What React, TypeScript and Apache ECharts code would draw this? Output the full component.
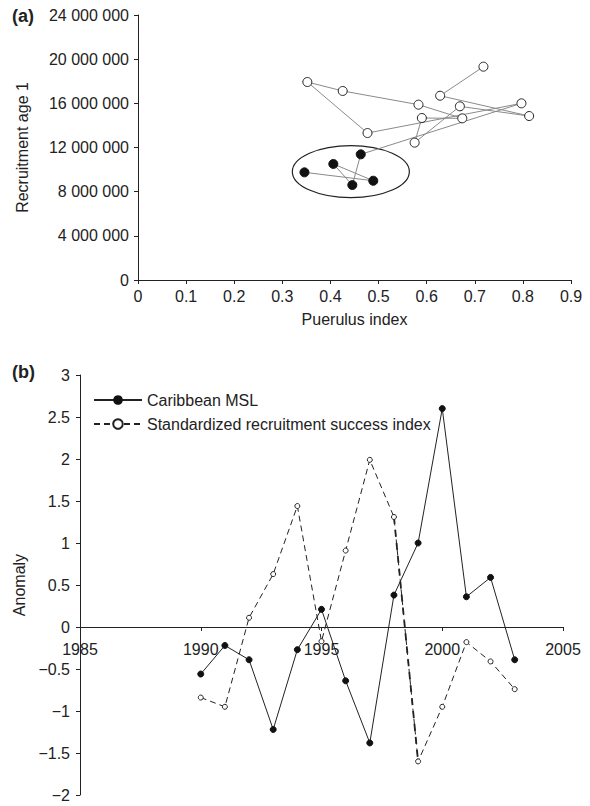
import React, { useEffect, useRef } from "react";
import * as echarts from "echarts";

// Panel (a): points in time order (connected by lines)
const puerulusIndex = [0.718, 0.628, 0.813, 0.669, 0.575, 0.590, 0.674, 0.583, 0.4255, 0.352, 0.477, 0.797, 0.463, 0.4455, 0.406, 0.489, 0.346];
const recruitmentAge1 = [19320000, 16690000, 14850000, 15730000, 12440000, 14670000, 14640000, 15880000, 17120000, 17930000, 13310000, 16000000, 11380000, 8600000, 10510000, 8990000, 9750000];
const filledPoint = [false, false, false, false, false, false, false, false, false, false, false, false, true, true, true, true, true];
// ellipse around the filled points: centre x, centre y, half-width, half-height
const ellipseSpec = [0.4424, 9810000, 0.1216, 2355000];

// Panel (b)
const years = [1990, 1991, 1992, 1993, 1994, 1995, 1996, 1997, 1998, 1999, 2000, 2001, 2002, 2003];
const caribbeanMSL = [-0.56, -0.22, -0.39, -1.22, -0.27, 0.21, -0.64, -1.38, 0.38, 1.0, 2.6, 0.36, 0.59, -0.39];
const recruitIndex = [-0.84, -0.95, 0.11, 0.63, 1.44, -0.17, 0.91, 1.99, 1.31, -1.6, -0.95, -0.18, -0.41, -0.74];

const FONT = "'Liberation Sans', Arial, Helvetica, sans-serif";
const INK = "#222";

export default function App() {
  const ref = useRef<HTMLDivElement>(null);
  useEffect(() => {
    if (!ref.current) return;
    const chart = echarts.init(ref.current, null, { renderer: "svg" });
    const axisLine = { lineStyle: { color: INK, width: 1 } };
    const axisTick = { length: 4, lineStyle: { color: INK, width: 1 } };
    const lbl = { fontSize: 16, color: INK, fontFamily: FONT };
    const minus = (v: number) => String(Math.round(v * 10) / 10).replace("-", "\u2212");

    const scatterData = puerulusIndex.map((x, i) => ({
      value: [x, recruitmentAge1[i]],
      itemStyle: filledPoint[i]
        ? { color: "#111", borderColor: "#111", borderWidth: 1 }
        : { color: "#fff", borderColor: "#222", borderWidth: 1 },
    }));

    const segIdx = years.indexOf(1998);

    chart.setOption({
      animation: false,
      textStyle: { fontFamily: FONT },
      grid: [
        { left: 138, top: 15, width: 433, height: 265 },
        { left: 80, top: 375, width: 483, height: 420 },
      ],
      xAxis: [
        {
          gridIndex: 0, type: "value", min: 0, max: 0.9, interval: 0.1,
          name: "Puerulus index", nameLocation: "middle", nameGap: 31,
          nameTextStyle: { ...lbl },
          axisLine, axisTick, splitLine: { show: false },
          axisLabel: { ...lbl, margin: 8, formatter: (v: number) => minus(v) },
        },
        {
          gridIndex: 1, type: "value", min: 1985, max: 2005, interval: 5,
          position: "bottom", offset: -168,
          axisLine: { ...axisLine, onZero: false }, axisTick, splitLine: { show: false },
          axisLabel: { ...lbl, margin: 14, formatter: (v: number) => String(v) },
        },
      ],
      yAxis: [
        {
          gridIndex: 0, type: "value", min: 0, max: 24000000, interval: 4000000,
          name: "Recruitment age 1", nameLocation: "middle", nameGap: 108,
          nameTextStyle: { ...lbl },
          axisLine: { show: true, ...axisLine }, axisTick: { show: true, ...axisTick }, splitLine: { show: false },
          axisLabel: { ...lbl, margin: 9, formatter: (v: number) => String(v).replace(/\B(?=(\d{3})+(?!\d))/g, " ") },
        },
        {
          gridIndex: 1, type: "value", min: -2, max: 3, interval: 0.5,
          name: "Anomaly", nameLocation: "middle", nameGap: 44,
          nameTextStyle: { ...lbl },
          axisLine: { show: true, onZero: false, ...axisLine }, axisTick: { show: true, ...axisTick }, splitLine: { show: false },
          axisLabel: { ...lbl, margin: 10, formatter: (v: number) => minus(v) },
        },
      ],
      legend: {
        left: 88, top: 387, orient: "vertical", itemWidth: 48, itemHeight: 12, itemGap: 8,
        textStyle: { ...lbl },
        data: [
          { name: "Caribbean MSL" },
          { name: "Standardized recruitment success index", lineStyle: { width: 2, type: [6, 4] } },
        ],
      },
      graphic: [
        { type: "text", left: 12, top: 7, style: { text: "(a)", font: `bold 18px ${FONT}`, fill: INK } },
        { type: "text", left: 12, top: 363, style: { text: "(b)", font: `bold 18px ${FONT}`, fill: INK } },
      ],
      series: [
        {
          type: "custom", xAxisIndex: 0, yAxisIndex: 0, silent: true,
          data: [ellipseSpec],
          renderItem: (params: any, api: any) => {
            const c = api.coord([api.value(0), api.value(1)]);
            const s = api.size([api.value(2), api.value(3)]);
            return {
              type: "ellipse",
              shape: { cx: c[0], cy: c[1], rx: s[0], ry: s[1] },
              style: { fill: "none", stroke: INK, lineWidth: 1.2 },
            };
          },
          z: 1,
        },
        {
          type: "line", xAxisIndex: 0, yAxisIndex: 0, data: scatterData,
          symbol: "circle", symbolSize: 9,
          lineStyle: { color: "#8a8a8a", width: 1 },
          z: 3,
        },
        {
          name: "Caribbean MSL", type: "line", xAxisIndex: 1, yAxisIndex: 1,
          data: years.map((y, i) => [y, caribbeanMSL[i]]),
          symbol: "circle", symbolSize: 6,
          lineStyle: { color: INK, width: 1 },
          itemStyle: { color: "#111", borderColor: "#111" },
          z: 4,
        },
        {
          name: "Standardized recruitment success index", type: "line", xAxisIndex: 1, yAxisIndex: 1,
          data: years.map((y, i) => [y, recruitIndex[i]]),
          symbol: "circle", symbolSize: 5,
          lineStyle: { color: INK, width: 1, type: [6, 4] },
          itemStyle: { color: "#fff", borderColor: INK, borderWidth: 1 },
          z: 3,
        },
        {
          type: "line", xAxisIndex: 1, yAxisIndex: 1, silent: true,
          data: years.slice(segIdx, segIdx + 2).map((y, i) => [y, recruitIndex[segIdx + i]]),
          symbol: "none",
          lineStyle: { color: INK, width: 1.8, type: [7, 6] },
          z: 2,
        },
      ],
    });
    return () => chart.dispose();
  }, []);
  return <div ref={ref} style={{ position: "fixed", left: 0, top: 0, width: 590, height: 806, background: "#fff" }} />;
}
